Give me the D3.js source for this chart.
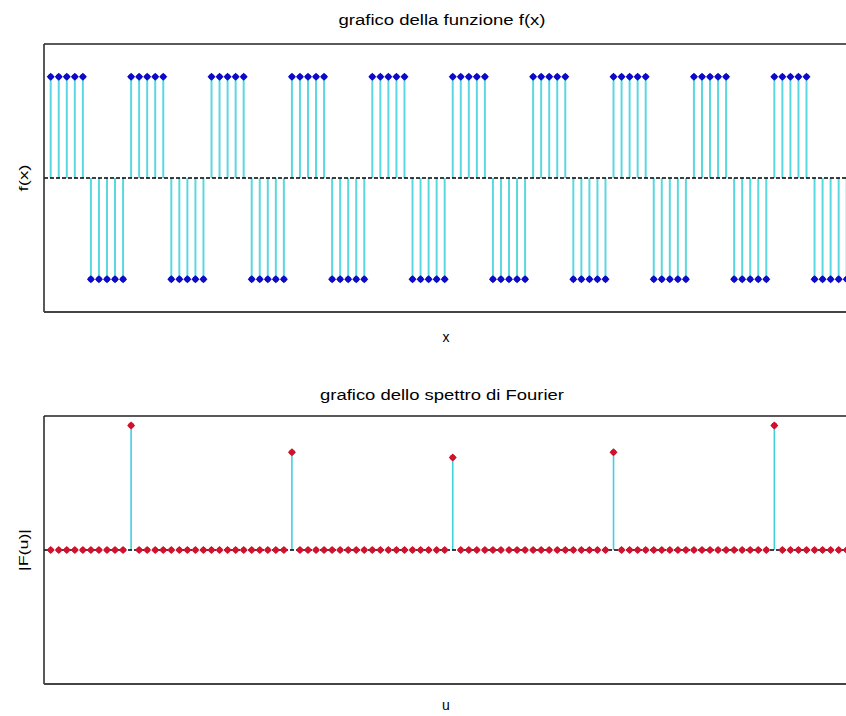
<!DOCTYPE html>
<html>
<head>
<meta charset="utf-8">
<script src="https://cdn.jsdelivr.net/npm/d3@7"></script>
<style>
  html, body { margin: 0; padding: 0; background: #fff; }
  svg { display: block; }
  text { font-family: "Liberation Sans Narrow", "Liberation Sans", Arial, sans-serif; fill: #000; }
</style>
</head>
<body>
<svg id="chart" width="846" height="716"></svg>
<script>
// Sample index (0..99)
const samples = d3.range(100);

// Square wave f(x): five samples at +1, five at -1, repeated
const fx = [
   1, 1, 1, 1, 1,-1,-1,-1,-1,-1,
   1, 1, 1, 1, 1,-1,-1,-1,-1,-1,
   1, 1, 1, 1, 1,-1,-1,-1,-1,-1,
   1, 1, 1, 1, 1,-1,-1,-1,-1,-1,
   1, 1, 1, 1, 1,-1,-1,-1,-1,-1,
   1, 1, 1, 1, 1,-1,-1,-1,-1,-1,
   1, 1, 1, 1, 1,-1,-1,-1,-1,-1,
   1, 1, 1, 1, 1,-1,-1,-1,-1,-1,
   1, 1, 1, 1, 1,-1,-1,-1,-1,-1,
   1, 1, 1, 1, 1,-1,-1,-1,-1,-1
];

// Magnitude spectrum |F(u)|: odd harmonics of the fundamental only
const Fu = [
  0,0,0,0,0,0,0,0,0,0, 0.93,0,0,0,0,0,0,0,0,0,
  0,0,0,0,0,0,0,0,0,0, 0.73,0,0,0,0,0,0,0,0,0,
  0,0,0,0,0,0,0,0,0,0, 0.69,0,0,0,0,0,0,0,0,0,
  0,0,0,0,0,0,0,0,0,0, 0.73,0,0,0,0,0,0,0,0,0,
  0,0,0,0,0,0,0,0,0,0, 0.93,0,0,0,0,0,0,0,0,0
];

const titles = ["grafico della funzione f(x)", "grafico dello spettro di Fourier"];
const xLabels = ["x", "u"];
const yLabels = ["f(x)", "|F(u)|"];

const svg = d3.select("#chart");

const frameLeft = 44, frameRight = 900;
const x = d3.scaleLinear().domain([0, 99]).range([50.7, 846.7]);

// marker: fat diamond (diamond + disc)
function drawMarkers(g, data, yScale, color) {
  const m = g.append("g").selectAll("g").data(data).join("g")
    .attr("transform", d => `translate(${x(d.i)},${yScale(d.v)})`);
  m.append("path").attr("d", "M0,-4L4,0L0,4L-4,0Z").attr("fill", color);
  m.append("circle").attr("r", 2.8).attr("fill", color);
}

function panel(opts) {
  const { top, bottom, yDomain, values, stemColor, stemWidth, markerColor, title, titleLen, titleY, xLabel, xLabelY, yLabel, yLabelLen } = opts;
  const y = d3.scaleLinear().domain(yDomain).range([bottom, top]);
  const g = svg.append("g");
  const data = samples.map(i => ({ i, v: values[i] }));

  // stems
  g.append("g").selectAll("line").data(data.filter(d => d.v !== 0)).join("line")
    .attr("x1", d => x(d.i)).attr("x2", d => x(d.i))
    .attr("y1", y(0)).attr("y2", d => y(d.v))
    .attr("stroke", stemColor).attr("stroke-width", stemWidth);

  // dashed baseline
  g.append("line")
    .attr("x1", frameLeft).attr("x2", 846)
    .attr("y1", y(0)).attr("y2", y(0))
    .attr("stroke", "#000").attr("stroke-width", 1.3)
    .attr("stroke-dasharray", "4,2");

  drawMarkers(g, data, y, markerColor);

  // frame: top, left, bottom
  g.append("line").attr("x1", frameLeft).attr("x2", frameRight).attr("y1", top).attr("y2", top)
    .attr("stroke", "#222").attr("stroke-width", 1.5);
  g.append("line").attr("x1", frameLeft).attr("x2", frameLeft).attr("y1", top).attr("y2", bottom)
    .attr("stroke", "#222").attr("stroke-width", 1.5);
  g.append("line").attr("x1", frameLeft).attr("x2", frameRight).attr("y1", bottom).attr("y2", bottom)
    .attr("stroke", "#444").attr("stroke-width", 2.2);

  // title
  g.append("text").attr("x", 442).attr("y", titleY).attr("text-anchor", "middle")
    .attr("font-size", 14).attr("textLength", titleLen).attr("lengthAdjust", "spacingAndGlyphs")
    .text(title);
  // axis labels
  g.append("text").attr("x", 446).attr("y", xLabelY).attr("text-anchor", "middle")
    .attr("font-size", 14).text(xLabel);
  g.append("text").attr("transform", `translate(28,${(top + bottom) / 2}) rotate(-90)`)
    .attr("text-anchor", "middle").attr("font-size", 13)
    .attr("textLength", yLabelLen).attr("lengthAdjust", "spacingAndGlyphs")
    .text(yLabel);
}

panel({
  top: 44, bottom: 312, yDomain: [-1.325, 1.325], values: fx,
  stemColor: "#5ad8e0", stemWidth: 2, markerColor: "#0b0bc8",
  title: titles[0], titleLen: 207, titleY: 25,
  xLabel: xLabels[0], xLabelY: 342, yLabel: yLabels[0], yLabelLen: 27
});

panel({
  top: 416, bottom: 684, yDomain: [-1, 1], values: Fu,
  stemColor: "#3fd0e0", stemWidth: 1.6, markerColor: "#d0122e",
  title: titles[1], titleLen: 244, titleY: 400,
  xLabel: xLabels[1], xLabelY: 710, yLabel: yLabels[1], yLabelLen: 42
});
</script>
</body>
</html>
